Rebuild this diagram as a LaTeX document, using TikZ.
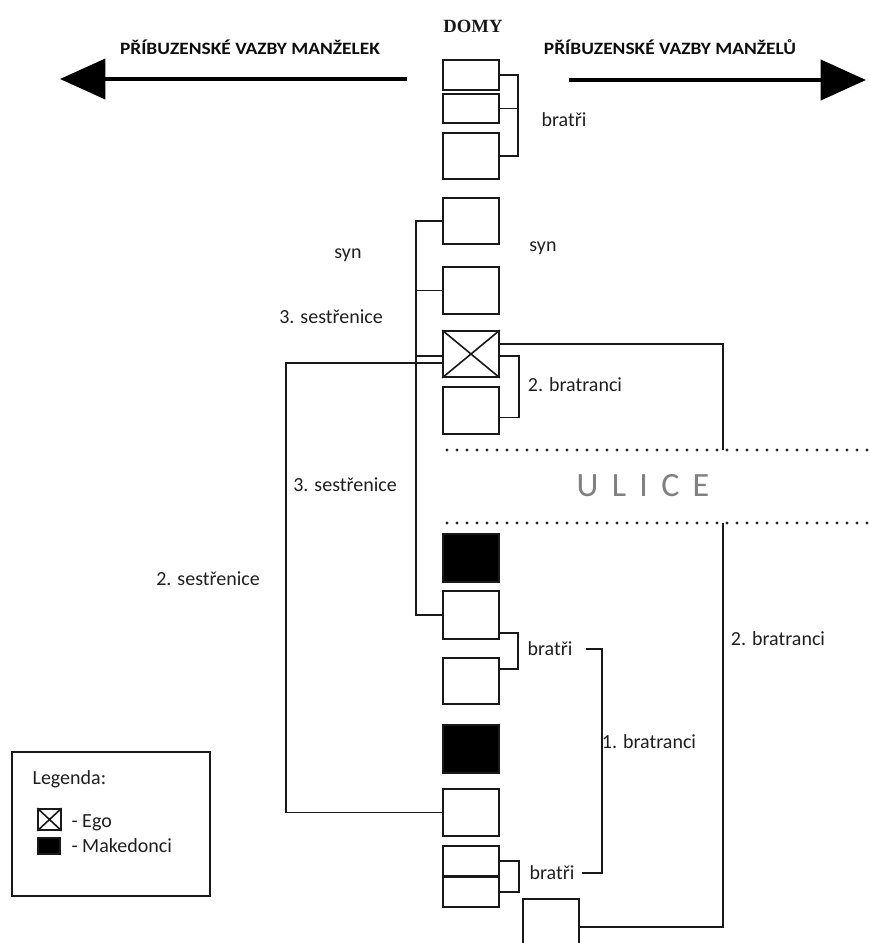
\documentclass[tikz,border=0pt]{standalone}
\usepackage{fontspec}
\setmainfont{Carlito}
\newfontfamily\domyfont{Liberation Serif}
\usetikzlibrary{arrows.meta,calc}

\begin{document}
\begin{tikzpicture}[
    x=0.75pt, y=-0.75pt,
    font=\fontsize{15}{18}\selectfont,
    house/.style={draw=black!90, line width=1.3pt, minimum width=42pt, minimum height=#1, inner sep=0pt},
    house/.default=35pt,
    mac/.style={house=#1, fill=black},
    mac/.default=36pt,
    link/.style={draw=black!90, line width=1.2pt},
    lab/.style={text=black!88, inner sep=1pt},
    head/.style={font=\bfseries\fontsize{13}{15}\selectfont, text=black!95},
    bigarrow/.style={-{Triangle[length=34pt,width=30pt]}, line width=3pt, black},
    street/.style={line width=2.5pt, line cap=round, dash pattern=on 0pt off 7.5pt, black!85}
  ]
  \clip (0,0) rectangle (869,943);

  % nadpisy a sipky
  \node[font=\domyfont\bfseries\fontsize{14}{16}\selectfont, text=black!90] (domy) at (473,26) {DOMY};
  \node[head] (hl) at (250,47) {\scalebox{1.12}[1]{PŘÍBUZENSKÉ VAZBY MANŽELEK}};
  \node[head] (hr) at (670,47) {\scalebox{1.12}[1]{PŘÍBUZENSKÉ VAZBY MANŽELŮ}};
  \coordinate (al) at (407,79);
  \coordinate (alt) at (60,79);
  \coordinate (ar) at (569,80);
  \coordinate (art) at (866,80);
  \draw[bigarrow] (al) -- (alt);
  \draw[bigarrow] (ar) -- (art);

  % domy
  \node[house=22.5pt] (b1) at (471,75) {};
  \node[house=21.75pt] (b2) at (471,108.5) {};
  \node[house=34.5pt] (b3) at (471,156) {};
  \node[house=34.5pt] (b4) at (471,221) {};
  \node[house=35.25pt] (b5) at (471,290.5) {};
  \node[house=34.5pt] (ego) at (471,354) {};
  \draw[link] (ego.north west) -- (ego.south east) (ego.south west) -- (ego.north east);
  \node[house=35.25pt] (b7) at (471,410.5) {};
  \node[mac] (m1) at (471,558) {};
  \node[house=36pt] (b8) at (471,615) {};
  \node[house=34.5pt] (b9) at (471,681) {};
  \node[mac] (m2) at (471,749) {};
  \node[house=35.25pt] (b10) at (471,812.5) {};
  \node[house=22.5pt] (b11) at (471,861) {};
  \node[house=22.5pt] (b12) at (471,892) {};
  \node[house=42pt] (b13) at (551,927) {};

  % ulice
  \coordinate (s1w) at (447,450);
  \coordinate (s1e) at (869,450);
  \coordinate (s2w) at (447,523);
  \coordinate (s2e) at (869,523);
  \coordinate (st1) at (723,450);
  \coordinate (st2) at (723,523);
  \draw[street] (s1w) -- (s1e);
  \draw[street] (s2w) -- (s2e);
  \node[text=black!50, font=\fontsize{25.5}{28}\selectfont] (ulice) at (643,486) {\spaceskip=10pt U L I C E};

  % popisky
  \node[lab] (lbt) at (564,120) {bratři};
  \node[lab] (synl) at (348,255) {syn};
  \node[lab] (synr) at (543,248) {syn};
  \node[lab] (s3a) at (331,317) {3. sestřenice};
  \node[lab] (br2a) at (575,385) {2. bratranci};
  \node[lab] (s3b) at (345,485) {3. sestřenice};
  \node[lab] (s2) at (208,579) {2. sestřenice};
  \node[lab] (br2b) at (778,639) {2. bratranci};
  \node[lab] (lbm) at (550,649) {bratři};
  \node[lab] (br1) at (649,742) {1. bratranci};
  \node[lab] (lbb) at (552,873) {bratři};

  % vazby
  \draw[link] (b1.east) -- ++(18,0) |- (b3.east);
  \draw[link] (b2.east) -- ++(18,0);
  \draw[link] (b4.west) -- ++(-26,0) |- (b8.west);
  \draw[link] (b5.west) -- ++(-26,0);
  \draw[link] ($(ego.west)+(0,2)$) -- ++(-26,0);
  \draw[link] ($(ego.west)+(0,9)$) -- ++(-156,0) |- (b10.west);
  \draw[link] ($(ego.east)+(0,-10)$) -| (st1);
  \draw[link] ($(ego.east)+(0,2)$) -- ++(19,0) |- ($(b7.east)+(0,7)$);
  \draw[link] ($(b8.east)+(0,18)$) -- ++(18,0) |- ($(b9.east)+(0,-12)$);
  \draw[link] (b11.east) -- ++(19,0) |- (b12.east);
  \draw[link] ($(lbm.east)+(12,0)$) -- ++(16,0) |- ($(lbb.east)+(6,0)$);
  \draw[link] (b13.east) -| (st2);

  % legenda
  \draw[link] (12,752) rectangle (210,896);
  \node[lab, anchor=west] (leg) at (31,779) {Legenda:};
  \node[house=15.75pt, minimum width=17pt] (egoi) at (49.5,819.5) {};
  \draw[link] (egoi.north west) -- (egoi.south east) (egoi.south west) -- (egoi.north east);
  \node[lab, anchor=west] (legego) at (70,823) {- Ego};
  \node[mac=12pt, minimum width=16.5pt] (maki) at (49,846) {};
  \node[lab, anchor=west] (legmak) at (70,846) {- Makedonci};
\end{tikzpicture}
\end{document}
